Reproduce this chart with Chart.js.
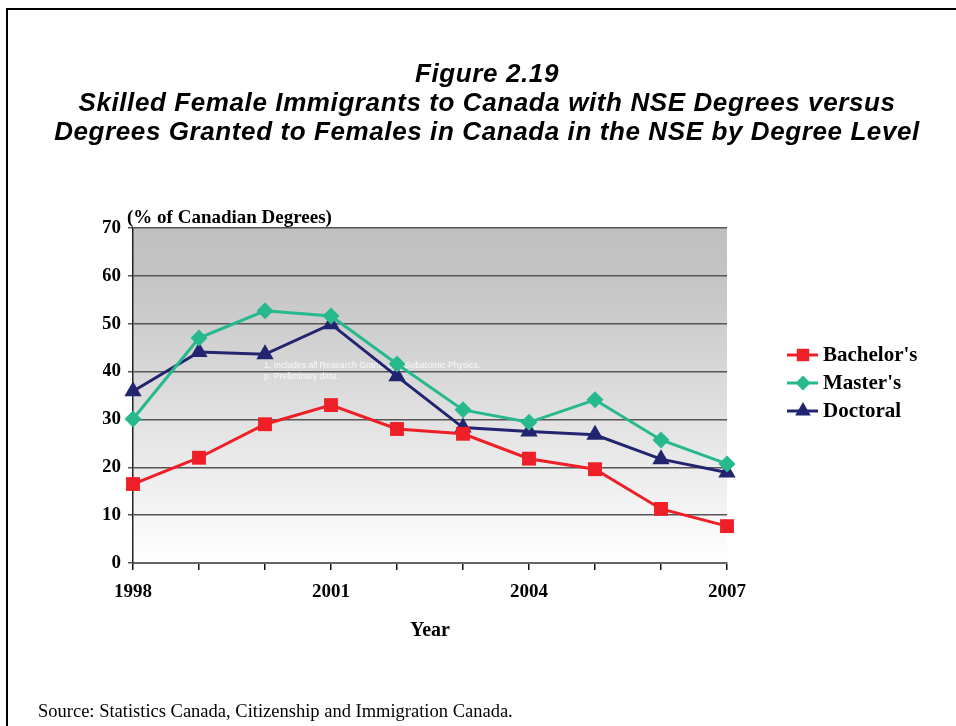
<!DOCTYPE html>
<html>
<head>
<meta charset="utf-8">
<script src="https://cdn.jsdelivr.net/npm/chart.js@4.4.1/dist/chart.umd.min.js"></script>
<style>
  body { margin: 0; background: #fff; width: 956px; height: 726px; overflow: hidden; position: relative; }
  #frame { position: absolute; left: 6px; top: 8px; width: 1200px; height: 1000px; border-top: 2px solid #000; border-left: 2px solid #000; }
  #title { position: absolute; left: 0; top: 59px; width: 974px; text-align: center; font-family: "Liberation Sans", Arial, sans-serif; font-weight: bold; font-style: italic; font-size: 26px; line-height: 29px; letter-spacing: 0.6px; }
  #source { position: absolute; left: 38px; top: 701px; font-family: "Liberation Serif", "Times New Roman", serif; font-size: 18.5px; }
  canvas { position: absolute; left: 0; top: 0; }
</style>
</head>
<body>
<div id="frame"></div>
<canvas id="chart" width="956" height="726"></canvas>
<div id="title">Figure 2.19<br>Skilled Female Immigrants to Canada with NSE Degrees versus<br>Degrees Granted to Females in Canada in the NSE by Degree Level</div>
<div id="source">Source: Statistics Canada, Citizenship and Immigration Canada.</div>
<script>
const years = ['1998', '1999', '2000', '2001', '2002', '2003', '2004', '2005', '2006', '2007'];
const bachelors = [16.5, 22, 29, 33, 28, 27, 21.8, 19.6, 11.3, 7.7];
const masters = [30.1, 47, 52.7, 51.6, 41.6, 32, 29.4, 34.1, 25.7, 20.7];
const doctoral = [35.9, 44.1, 43.6, 49.9, 39, 28.3, 27.5, 26.8, 21.7, 18.9];
const yTitle = '(% of Canadian Degrees)';
const xTitle = 'Year';
const noteLines = ['1. Includes all Research Grants and Subatomic Physics.', 'p. Preliminary data.'];

const serif = '"Liberation Serif", "Times New Roman", serif';

// background gradient, faint note, axis titles and the legend
const decor = {
  id: 'decor',
  beforeDraw(chart) {
    const { ctx, chartArea: a } = chart;
    const g = ctx.createLinearGradient(0, a.top, 0, a.bottom);
    g.addColorStop(0, '#c0c0c0');
    g.addColorStop(0.15, '#c4c4c4');
    g.addColorStop(1, '#ffffff');
    ctx.save();
    ctx.fillStyle = g;
    ctx.fillRect(a.left, a.top, a.right - a.left, a.bottom - a.top);
    ctx.restore();
  },
  beforeDatasetsDraw(chart) {
    const ctx = chart.ctx;
    ctx.save();
    ctx.fillStyle = 'rgba(255,255,255,0.85)';
    ctx.font = '8.7px "Liberation Sans", Arial, sans-serif';
    ctx.textBaseline = 'middle';
    ctx.fillText(noteLines[0], 264, 366);
    ctx.fillText(noteLines[1], 264, 377);
    ctx.restore();
  },
  afterDraw(chart) {
    const { ctx, chartArea: a } = chart;
    ctx.save();
    ctx.fillStyle = '#000';
    ctx.textBaseline = 'middle';
    ctx.font = 'bold 19px ' + serif;
    ctx.fillText(yTitle, 127, 218);
    ctx.font = 'bold 20px ' + serif;
    ctx.textAlign = 'center';
    ctx.fillText(xTitle, (a.left + a.right) / 2, 631);

    // legend
    ctx.textAlign = 'left';
    ctx.font = 'bold 21px ' + serif;
    chart.data.datasets.forEach((ds, i) => {
      const y = 355 + i * 28;
      ctx.strokeStyle = ds.borderColor;
      ctx.fillStyle = ds.borderColor;
      ctx.lineWidth = 3;
      ctx.beginPath();
      ctx.moveTo(787, y);
      ctx.lineTo(818, y);
      ctx.stroke();
      Chart.helpers.drawPoint(ctx, { pointStyle: ds.pointStyle, radius: ds.pointRadius - 1, rotation: 0, borderWidth: 0 }, 803, y);
      ctx.fillStyle = '#000';
      ctx.fillText(ds.label, 823, y + 1);
    });
    ctx.restore();
  }
};

function series(label, data, color, style, radius) {
  return {
    label: label,
    data: data,
    borderColor: color,
    backgroundColor: color,
    borderWidth: 3,
    tension: 0,
    pointStyle: style,
    pointRadius: radius,
    pointBorderWidth: 0,
    pointBackgroundColor: color,
    clip: false
  };
}

new Chart(document.getElementById('chart').getContext('2d'), {
  type: 'line',
  data: {
    labels: years,
    datasets: [
      series("Bachelor's", bachelors, '#ee1f26', 'rect', 9.8),
      series("Master's", masters, '#27b98e', 'rectRot', 8.5),
      series('Doctoral', doctoral, '#232470', 'triangle', 10)
    ]
  },
  options: {
    responsive: false,
    animation: false,
    layout: { padding: { left: 103, top: 228, right: 229, bottom: 83 } },
    plugins: { legend: { display: false }, title: { display: false }, tooltip: { enabled: false } },
    scales: {
      x: {
        offset: false,
        afterFit: s => { s.height = 80; },
        border: { display: true, color: '#666', width: 2 },
        grid: { drawOnChartArea: false, drawTicks: true, tickLength: 7, color: '#111', lineWidth: 1.5 },
        ticks: {
          autoSkip: false, maxRotation: 0, padding: 11, color: '#000',
          font: { family: serif, size: 19, weight: 'bold' },
          callback: function (v, i) { return i % 3 === 0 ? this.getLabelForValue(v) : ''; }
        }
      },
      y: {
        min: 0, max: 70,
        afterFit: s => { s.width = 30; },
        border: { display: true, color: '#222', width: 1.5 },
        grid: { color: '#555', lineWidth: 1.5, tickLength: 5 },
        ticks: { stepSize: 10, padding: 7, color: '#000', font: { family: serif, size: 19, weight: 'bold' } }
      }
    }
  },
  plugins: [decor]
});
</script>
</body>
</html>
